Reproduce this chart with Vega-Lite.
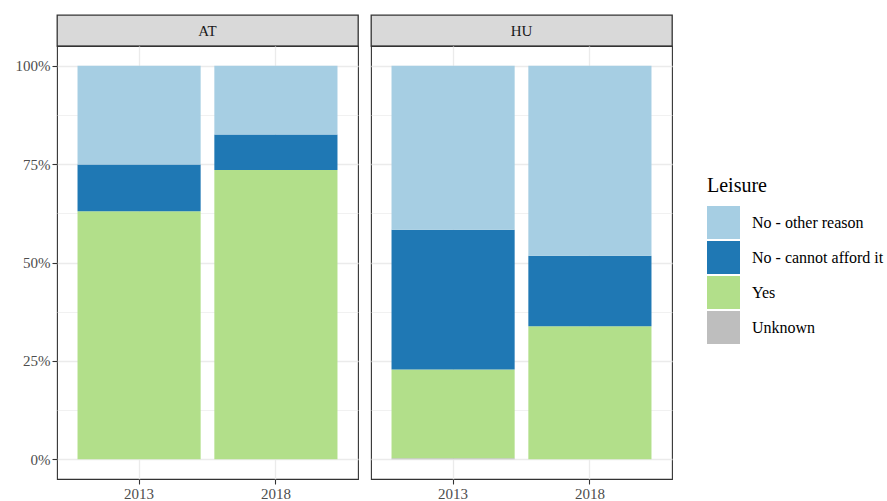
{
  "$schema": "https://vega.github.io/schema/vega-lite/v6.json",
  "padding": {"left": 14, "top": 14, "right": 5, "bottom": 2},
  "autosize": {"type": "pad"},
  "spacing": 11,
  "datasets": {
    "shares": [
      {"Country": "AT", "Year": "2013", "Leisure": "Yes", "share": 0.630},
      {"Country": "AT", "Year": "2013", "Leisure": "No - cannot afford it", "share": 0.119},
      {"Country": "AT", "Year": "2013", "Leisure": "No - other reason", "share": 0.251},
      {"Country": "AT", "Year": "2018", "Leisure": "Yes", "share": 0.735},
      {"Country": "AT", "Year": "2018", "Leisure": "No - cannot afford it", "share": 0.090},
      {"Country": "AT", "Year": "2018", "Leisure": "No - other reason", "share": 0.175},
      {"Country": "HU", "Year": "2013", "Leisure": "Unknown", "share": 0.003},
      {"Country": "HU", "Year": "2013", "Leisure": "Yes", "share": 0.225},
      {"Country": "HU", "Year": "2013", "Leisure": "No - cannot afford it", "share": 0.355},
      {"Country": "HU", "Year": "2013", "Leisure": "No - other reason", "share": 0.417},
      {"Country": "HU", "Year": "2018", "Leisure": "Yes", "share": 0.338},
      {"Country": "HU", "Year": "2018", "Leisure": "No - cannot afford it", "share": 0.179},
      {"Country": "HU", "Year": "2018", "Leisure": "No - other reason", "share": 0.483}
    ],
    "panels": [{"Country": "AT"}, {"Country": "HU"}]
  },
  "config": {
    "font": "Liberation Serif",
    "view": {"stroke": "#333333", "strokeWidth": 1.1},
    "axis": {
      "title": null,
      "domain": false,
      "gridColor": "#EBEBEB",
      "tickColor": "#333333",
      "tickSize": 5,
      "tickWidth": 1.1,
      "labelColor": "#4D4D4D",
      "labelFontSize": 15,
      "labelPadding": 2
    }
  },
  "hconcat": [
    {
      "spacing": 0,
      "bounds": "flush",
      "vconcat": [
        {
          "data": {"name": "panels"},
          "transform": [{"filter": "datum.Country === 'AT'"}],
          "width": 301,
          "height": 31,
          "view": {"fill": "#D9D9D9", "stroke": "#333333", "strokeWidth": 1.3},
          "mark": {"type": "text", "fontSize": 15, "color": "#1A1A1A"},
          "encoding": {"text": {"field": "Country", "type": "nominal"}}
        },
        {
          "data": {"name": "shares"},
          "transform": [
            {"filter": "datum.Country === 'AT'"},
            {"calculate": "indexof(['Unknown', 'Yes', 'No - cannot afford it', 'No - other reason'], datum.Leisure)", "as": "stack_rank"}
          ],
          "width": 301,
          "height": 433,
          "mark": {"type": "bar"},
          "encoding": {
            "x": {
              "field": "Year", "type": "nominal",
              "scale": {"paddingInner": 0.1, "paddingOuter": 0.15},
              "axis": {"labelAngle": 0, "grid": true, "gridWidth": 1.3, "bandPosition": 0.5}
            },
            "y": {
              "field": "share", "type": "quantitative", "stack": "normalize",
              "scale": {"domain": [-0.05, 1.05], "nice": false, "zero": false},
              "axis": {
                "values": [0, 0.125, 0.25, 0.375, 0.5, 0.625, 0.75, 0.875, 1],
                "labelExpr": "(datum.value * 4) % 1 === 0 ? format(datum.value, '.0%') : ''",
                "grid": true,
                "gridWidth": {"condition": {"test": "(datum.value * 4) % 1 === 0", "value": 1.3}, "value": 0.7},
                "tickOpacity": {"condition": {"test": "(datum.value * 4) % 1 === 0", "value": 1}, "value": 0}
              }
            },
            "color": {
              "field": "Leisure", "type": "nominal",
              "scale": {
                "domain": ["No - other reason", "No - cannot afford it", "Yes", "Unknown"],
                "range": ["#A6CEE3", "#1F78B4", "#B2DF8A", "#BEBEBE"]
              },
              "legend": {
                "orient": "none",
                "legendX": 650,
                "legendY": 161,
                "title": "Leisure",
                "titleFontSize": 20,
                "titleFontWeight": "normal",
                "titleColor": "#000000",
                "titlePadding": 10,
                "labelFontSize": 16,
                "labelColor": "#000000",
                "labelOffset": 12,
                "symbolType": "square",
                "symbolSize": 1089,
                "symbolStrokeWidth": 0,
                "symbolOpacity": 1,
                "rowPadding": 2
              }
            },
            "order": {"field": "stack_rank", "type": "quantitative", "sort": "ascending"}
          }
        }
      ]
    },
    {
      "spacing": 0,
      "bounds": "flush",
      "vconcat": [
        {
          "data": {"name": "panels"},
          "transform": [{"filter": "datum.Country === 'HU'"}],
          "width": 301,
          "height": 31,
          "view": {"fill": "#D9D9D9", "stroke": "#333333", "strokeWidth": 1.3},
          "mark": {"type": "text", "fontSize": 15, "color": "#1A1A1A"},
          "encoding": {"text": {"field": "Country", "type": "nominal"}}
        },
        {
          "data": {"name": "shares"},
          "transform": [
            {"filter": "datum.Country === 'HU'"},
            {"calculate": "indexof(['Unknown', 'Yes', 'No - cannot afford it', 'No - other reason'], datum.Leisure)", "as": "stack_rank"}
          ],
          "width": 301,
          "height": 433,
          "mark": {"type": "bar"},
          "encoding": {
            "x": {
              "field": "Year", "type": "nominal",
              "scale": {"paddingInner": 0.1, "paddingOuter": 0.15},
              "axis": {"labelAngle": 0, "grid": true, "gridWidth": 1.3, "bandPosition": 0.5}
            },
            "y": {
              "field": "share", "type": "quantitative", "stack": "normalize",
              "scale": {"domain": [-0.05, 1.05], "nice": false, "zero": false},
              "axis": {
                "values": [0, 0.125, 0.25, 0.375, 0.5, 0.625, 0.75, 0.875, 1],
                "labels": false,
                "ticks": false,
                "grid": true,
                "gridWidth": {"condition": {"test": "(datum.value * 4) % 1 === 0", "value": 1.3}, "value": 0.7}
              }
            },
            "color": {
              "field": "Leisure", "type": "nominal",
              "scale": {
                "domain": ["No - other reason", "No - cannot afford it", "Yes", "Unknown"],
                "range": ["#A6CEE3", "#1F78B4", "#B2DF8A", "#BEBEBE"]
              }
            },
            "order": {"field": "stack_rank", "type": "quantitative", "sort": "ascending"}
          }
        }
      ]
    }
  ]
}
